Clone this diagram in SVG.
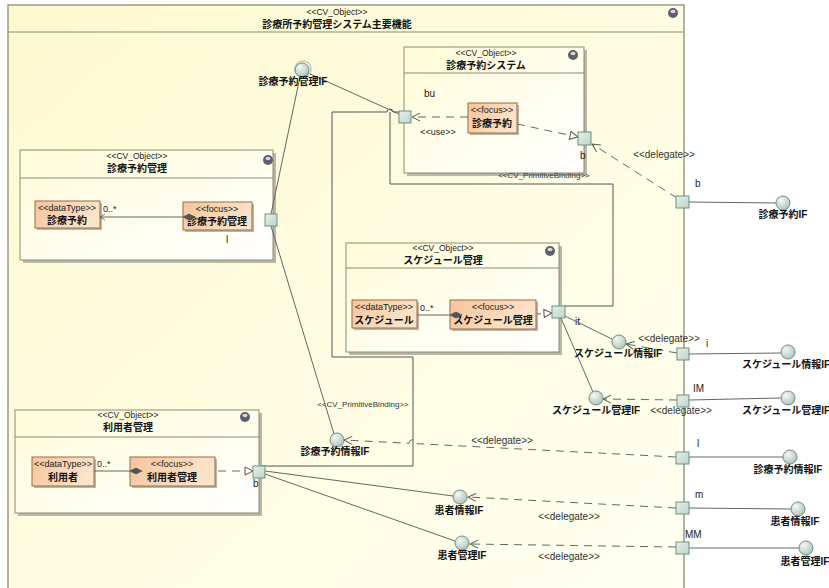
<svg xmlns="http://www.w3.org/2000/svg" width="829" height="588" viewBox="0 0 829 588">
<defs>
<linearGradient id="gFrame" x1="0" y1="0" x2="1" y2="1"><stop offset="0" stop-color="#FDFAD0"/><stop offset="1" stop-color="#FFFFF2"/></linearGradient>
<linearGradient id="gBox" x1="0" y1="0" x2="1" y2="1"><stop offset="0" stop-color="#FFFCD8"/><stop offset="1" stop-color="#FFFFFF"/></linearGradient>
<linearGradient id="gOrange" x1="0" y1="0" x2="1" y2="0.3"><stop offset="0" stop-color="#F6C59C"/><stop offset="1" stop-color="#FCE4CA"/></linearGradient>
<radialGradient id="gCirc" cx="0.35" cy="0.3" r="0.8"><stop offset="0" stop-color="#F4F8F6"/><stop offset="1" stop-color="#A9C0B4"/></radialGradient>
<linearGradient id="gPort" x1="0" y1="0" x2="1" y2="1"><stop offset="0" stop-color="#E6F0EB"/><stop offset="1" stop-color="#BED4C9"/></linearGradient>
<marker id="stick" markerWidth="10" markerHeight="10" refX="9" refY="5" orient="auto" markerUnits="userSpaceOnUse"><path d="M1,1 L9,5 L1,9" fill="none" stroke="#555" stroke-width="1"/></marker>
<marker id="tri" markerWidth="10" markerHeight="10" refX="9" refY="5" orient="auto" markerUnits="userSpaceOnUse"><path d="M1,1 L9,5 L1,9 Z" fill="#fff" stroke="#555" stroke-width="1"/></marker>
<marker id="dia" markerWidth="14" markerHeight="8" refX="13" refY="4" orient="auto" markerUnits="userSpaceOnUse"><path d="M1,4 L7,1 L13,4 L7,7 Z" fill="#555" stroke="#555" stroke-width="0.8"/></marker>
<marker id="nav" markerWidth="8" markerHeight="8" refX="7" refY="4" orient="auto" markerUnits="userSpaceOnUse"><path d="M2,1 L7,4 L2,7" fill="none" stroke="#555" stroke-width="0.8"/></marker>
</defs>
<style>
.frame{fill:url(#gFrame);stroke:#9A9A80;stroke-width:1.5}
.box{fill:url(#gBox);stroke:#8C8C70;stroke-width:1}
.shadow{fill:#B8B8A8}
.sep{stroke:#8C8C70;stroke-width:1}
.or{fill:url(#gOrange);stroke:#9A6A45;stroke-width:1}
.port{fill:url(#gPort);stroke:#6F8F80;stroke-width:1}
.circ{fill:url(#gCirc);stroke:#6F8F80;stroke-width:1}
.ln{fill:none;stroke:#666;stroke-width:1}
.bind{fill:none;stroke:#555;stroke-width:1}
.dash{fill:none;stroke:#666;stroke-width:1;stroke-dasharray:8,6}
.st{font-family:"Liberation Sans","Noto Sans CJK JP",sans-serif;font-size:8.5px;fill:#222;text-anchor:middle}
.tt{font-family:"Liberation Sans","Noto Sans CJK JP",sans-serif;font-size:10px;font-weight:bold;fill:#111;text-anchor:middle}
.lb{font-family:"Liberation Sans","Noto Sans CJK JP",sans-serif;font-size:10px;font-weight:bold;fill:#111;text-anchor:middle}
.sm{font-family:"Liberation Sans","Noto Sans CJK JP",sans-serif;font-size:10px;fill:#222}
.dl{font-family:"Liberation Sans","Noto Sans CJK JP",sans-serif;font-size:10px;fill:#333;text-anchor:middle}
.pb{font-family:"Liberation Sans","Noto Sans CJK JP",sans-serif;font-size:8px;fill:#333;text-anchor:middle}
.ds{font-family:"Liberation Sans","Noto Sans CJK JP",sans-serif;font-size:9px;fill:#222;text-anchor:middle}
.ic{fill:#5E5E6E}
.ich{fill:#D8D8E0}
</style>
<rect x="0" y="0" width="829" height="588" fill="#fff"/>

<g id="frame-main">
<rect class="frame" x="8" y="5" width="676" height="600"/>
<line class="sep" x1="8" y1="32" x2="684" y2="32"/>
<text class="st" x="337" y="15">&lt;&lt;CV_Object&gt;&gt;</text>
<text class="tt" x="337" y="28">診療所予約管理システム主要機能</text>
<circle class="ic" cx="673" cy="13" r="5"/><ellipse class="ich" cx="673" cy="11.5" rx="2.5" ry="1.8"/>
</g>

<g id="node-shinryo-system">
<rect class="shadow" x="407" y="50" width="180" height="126"/>
<rect class="box" x="404" y="47" width="180" height="126"/>
<line class="sep" x1="404" y1="73" x2="584" y2="73"/>
<text class="st" x="486" y="56">&lt;&lt;CV_Object&gt;&gt;</text>
<text class="tt" x="486" y="69">診療予約システム</text>
<circle class="ic" cx="573" cy="55" r="5"/><ellipse class="ich" cx="573" cy="53.5" rx="2.5" ry="1.8"/>
<text class="sm" x="424" y="97">bu</text>
<text class="ds" x="438" y="135">&lt;&lt;use&gt;&gt;</text>
<rect class="shadow" x="470" y="105" width="49" height="30"/>
<rect class="or" x="468" y="103" width="49" height="30"/>
<text class="ds" x="492" y="113">&lt;&lt;focus&gt;&gt;</text>
<text class="lb" x="492" y="127">診療予約</text>
</g>

<g id="node-shinryo-kanri">
<rect class="shadow" x="23" y="153" width="253" height="110"/>
<rect class="box" x="20" y="150" width="253" height="110"/>
<line class="sep" x1="20" y1="178" x2="273" y2="178"/>
<text class="st" x="137" y="159">&lt;&lt;CV_Object&gt;&gt;</text>
<text class="tt" x="137" y="172">診療予約管理</text>
<circle class="ic" cx="268" cy="160" r="5"/><ellipse class="ich" cx="268" cy="158.5" rx="2.5" ry="1.8"/>
<rect class="shadow" x="37" y="203" width="65" height="27"/>
<rect class="or" x="35" y="201" width="65" height="27"/>
<text class="ds" x="67" y="211">&lt;&lt;dataType&gt;&gt;</text>
<text class="lb" x="67" y="224">診療予約</text>
<rect class="shadow" x="185" y="204" width="69" height="28"/>
<rect class="or" x="183" y="202" width="69" height="28"/>
<text class="ds" x="217" y="212">&lt;&lt;focus&gt;&gt;</text>
<text class="lb" x="217" y="225">診療予約管理</text>
<text class="sm" x="103" y="212" style="font-size:9px">0..*</text>
<text class="sm" x="226" y="243">l</text>
</g>

<g id="node-schedule-kanri">
<rect class="shadow" x="349" y="246" width="213" height="109"/>
<rect class="box" x="346" y="243" width="213" height="109"/>
<line class="sep" x1="346" y1="268" x2="559" y2="268"/>
<text class="st" x="443" y="251">&lt;&lt;CV_Object&gt;&gt;</text>
<text class="tt" x="443" y="264">スケジュール管理</text>
<circle class="ic" cx="550" cy="251" r="5"/><ellipse class="ich" cx="550" cy="249.5" rx="2.5" ry="1.8"/>
<rect class="shadow" x="354" y="302" width="65" height="28"/>
<rect class="or" x="352" y="300" width="65" height="28"/>
<text class="ds" x="384" y="310">&lt;&lt;dataType&gt;&gt;</text>
<text class="lb" x="384" y="324">スケジュール</text>
<rect class="shadow" x="452" y="302" width="86" height="29"/>
<rect class="or" x="450" y="300" width="86" height="29"/>
<text class="ds" x="493" y="310">&lt;&lt;focus&gt;&gt;</text>
<text class="lb" x="493" y="324">スケジュール管理</text>
<text class="sm" x="420" y="311" style="font-size:9px">0..*</text>
<text class="sm" x="575" y="325">it</text>
</g>

<g id="node-riyosha-kanri">
<rect class="shadow" x="18" y="413" width="244" height="103"/>
<rect class="box" x="15" y="410" width="244" height="103"/>
<line class="sep" x1="15" y1="437" x2="259" y2="437"/>
<text class="st" x="128" y="418">&lt;&lt;CV_Object&gt;&gt;</text>
<text class="tt" x="128" y="431">利用者管理</text>
<circle class="ic" cx="245" cy="417" r="5"/><ellipse class="ich" cx="245" cy="415.5" rx="2.5" ry="1.8"/>
<rect class="shadow" x="34" y="459" width="62" height="29"/>
<rect class="or" x="32" y="457" width="62" height="29"/>
<text class="ds" x="63" y="467">&lt;&lt;dataType&gt;&gt;</text>
<text class="lb" x="63" y="481">利用者</text>
<rect class="shadow" x="132" y="459" width="85" height="29"/>
<rect class="or" x="130" y="457" width="85" height="29"/>
<text class="ds" x="172" y="467">&lt;&lt;focus&gt;&gt;</text>
<text class="lb" x="172" y="481">利用者管理</text>
<text class="sm" x="97" y="467" style="font-size:9px">0..*</text>
<text class="sm" x="253" y="487">b</text>
</g>

<g id="connectors">
<!-- associations -->
<line class="ln" x1="183" y1="217" x2="100" y2="217" marker-start="url(#dia)" marker-end="url(#nav)"/>
<line class="ln" x1="450" y1="315" x2="417" y2="315" marker-start="url(#dia)"/>
<line class="ln" x1="130" y1="471" x2="94" y2="471" marker-start="url(#dia)"/>
<!-- realizations / use -->
<line class="dash" x1="468" y1="117" x2="412" y2="117" marker-end="url(#stick)"/>
<line class="dash" x1="517" y1="124" x2="578" y2="137" marker-end="url(#tri)"/>
<line class="dash" x1="537" y1="314" x2="552" y2="313" style="stroke-dasharray:4,3" marker-end="url(#tri)"/>
<line class="dash" x1="218" y1="471" x2="253" y2="471" marker-end="url(#tri)"/>
<!-- primitive bindings -->
<path class="bind" d="M399,112 L393,112 A3,3 0 0 0 387,112 L332,112 L332,357 L413,357 L413,466 L262,466"/>
<path class="bind" d="M390,112 L390,184 L613,184 L613,306 L565,306"/>
<text class="pb" x="544" y="178">&lt;&lt;CV_PrimitiveBinding&gt;&gt;</text>
<text class="pb" x="363" y="407">&lt;&lt;CV_PrimitiveBinding&gt;&gt;</text>
<!-- interface links -->
<line class="ln" x1="308" y1="73" x2="399" y2="114"/>
<line class="ln" x1="300" y1="77" x2="271" y2="214"/>
<line class="ln" x1="271" y1="226" x2="334" y2="434"/>
<line class="ln" x1="565" y1="316" x2="612" y2="339"/>
<line class="ln" x1="561" y1="318" x2="593" y2="392"/>
<line class="ln" x1="265" y1="471" x2="453" y2="496"/>
<line class="ln" x1="265" y1="474" x2="455" y2="541"/>
<!-- delegates -->
<line class="dash" x1="677" y1="198" x2="592" y2="144" marker-end="url(#stick)"/>
<text class="dl" x="664" y="158">&lt;&lt;delegate&gt;&gt;</text>
<line class="dash" x1="677" y1="353" x2="626" y2="344" marker-end="url(#stick)"/>
<text class="dl" x="669" y="342">&lt;&lt;delegate&gt;&gt;</text>
<line class="dash" x1="677" y1="400" x2="603" y2="399" marker-end="url(#stick)"/>
<text class="dl" x="681" y="414">&lt;&lt;delegate&gt;&gt;</text>
<path class="dash" d="M676,457 L417,443.7 A4,4 0 0 0 409,443.3 L344,440" marker-end="url(#stick)"/>
<text class="dl" x="502" y="444">&lt;&lt;delegate&gt;&gt;</text>
<line class="dash" x1="676" y1="508" x2="468" y2="497" marker-end="url(#stick)"/>
<text class="dl" x="569" y="520">&lt;&lt;delegate&gt;&gt;</text>
<line class="dash" x1="676" y1="547" x2="470" y2="544" marker-end="url(#stick)"/>
<text class="dl" x="569" y="560">&lt;&lt;delegate&gt;&gt;</text>
<!-- external provided interfaces -->
<line class="ln" x1="689" y1="202" x2="776" y2="203"/>
<line class="ln" x1="689" y1="354" x2="781" y2="353"/>
<line class="ln" x1="689" y1="400" x2="781" y2="398"/>
<line class="ln" x1="689" y1="457" x2="783" y2="457"/>
<line class="ln" x1="689" y1="508" x2="791" y2="509"/>
<line class="ln" x1="689" y1="548" x2="799" y2="548"/>
</g>

<g id="port-bu"><rect class="port" x="399" y="111" width="12" height="12"/></g>
<g id="port-b-system"><rect class="port" x="578" y="132" width="13" height="13"/><text class="sm" x="580" y="159">b</text></g>
<g id="port-l-kanri"><rect class="port" x="265" y="214" width="12" height="12"/></g>
<g id="port-it"><rect class="port" x="552" y="306" width="13" height="12"/></g>
<g id="port-b-riyosha"><rect class="port" x="253" y="466" width="12" height="12"/></g>
<g id="port-b-outer"><rect class="port" x="676" y="196" width="13" height="12"/><text class="sm" x="695" y="187">b</text></g>
<g id="port-i"><rect class="port" x="677" y="348" width="12" height="12"/><text class="sm" x="706" y="347">i</text></g>
<g id="port-IM"><rect class="port" x="677" y="395" width="12" height="12"/><text class="sm" x="693" y="392">IM</text></g>
<g id="port-l-outer"><rect class="port" x="676" y="452" width="13" height="12"/><text class="sm" x="697" y="447">l</text></g>
<g id="port-m"><rect class="port" x="676" y="502" width="13" height="12"/><text class="sm" x="695" y="498">m</text></g>
<g id="port-MM"><rect class="port" x="676" y="542" width="13" height="12"/><text class="sm" x="685" y="538">MM</text></g>

<g id="if-shinryo-kanri"><circle cx="303" cy="69" r="8" fill="none" stroke="#B8D0C4" stroke-width="1.5"/><circle class="circ" cx="302" cy="70" r="7"/><text class="lb" x="293" y="85">診療予約管理IF</text></g>
<g id="if-shinryo-joho"><circle class="circ" cx="337" cy="440" r="7"/><text class="lb" x="335" y="455">診療予約情報IF</text></g>
<g id="if-schedule-joho"><circle class="circ" cx="619" cy="342" r="7"/><text class="lb" x="618" y="357">スケジュール情報IF</text></g>
<g id="if-schedule-kanri"><circle class="circ" cx="596" cy="398" r="7"/><text class="lb" x="596" y="414">スケジュール管理IF</text></g>
<g id="if-kanja-joho"><circle class="circ" cx="460" cy="497" r="7"/><text class="lb" x="459" y="514">患者情報IF</text></g>
<g id="if-kanja-kanri"><circle class="circ" cx="462" cy="543" r="7"/><text class="lb" x="462" y="559">患者管理IF</text></g>
<g id="if-shinryo-ext"><circle class="circ" cx="783" cy="203" r="7"/><text class="lb" x="783" y="218">診療予約IF</text></g>
<g id="if-schedule-joho-ext"><circle class="circ" cx="788" cy="352" r="7"/><text class="lb" x="786" y="368">スケジュール情報IF</text></g>
<g id="if-schedule-kanri-ext"><circle class="circ" cx="788" cy="398" r="7"/><text class="lb" x="786" y="414">スケジュール管理IF</text></g>
<g id="if-shinryo-joho-ext"><circle class="circ" cx="790" cy="457" r="7"/><text class="lb" x="788" y="473">診療予約情報IF</text></g>
<g id="if-kanja-joho-ext"><circle class="circ" cx="798" cy="509" r="7"/><text class="lb" x="795" y="525">患者情報IF</text></g>
<g id="if-kanja-kanri-ext"><circle class="circ" cx="806" cy="548" r="7"/><text class="lb" x="805" y="565">患者管理IF</text></g>
</svg>
